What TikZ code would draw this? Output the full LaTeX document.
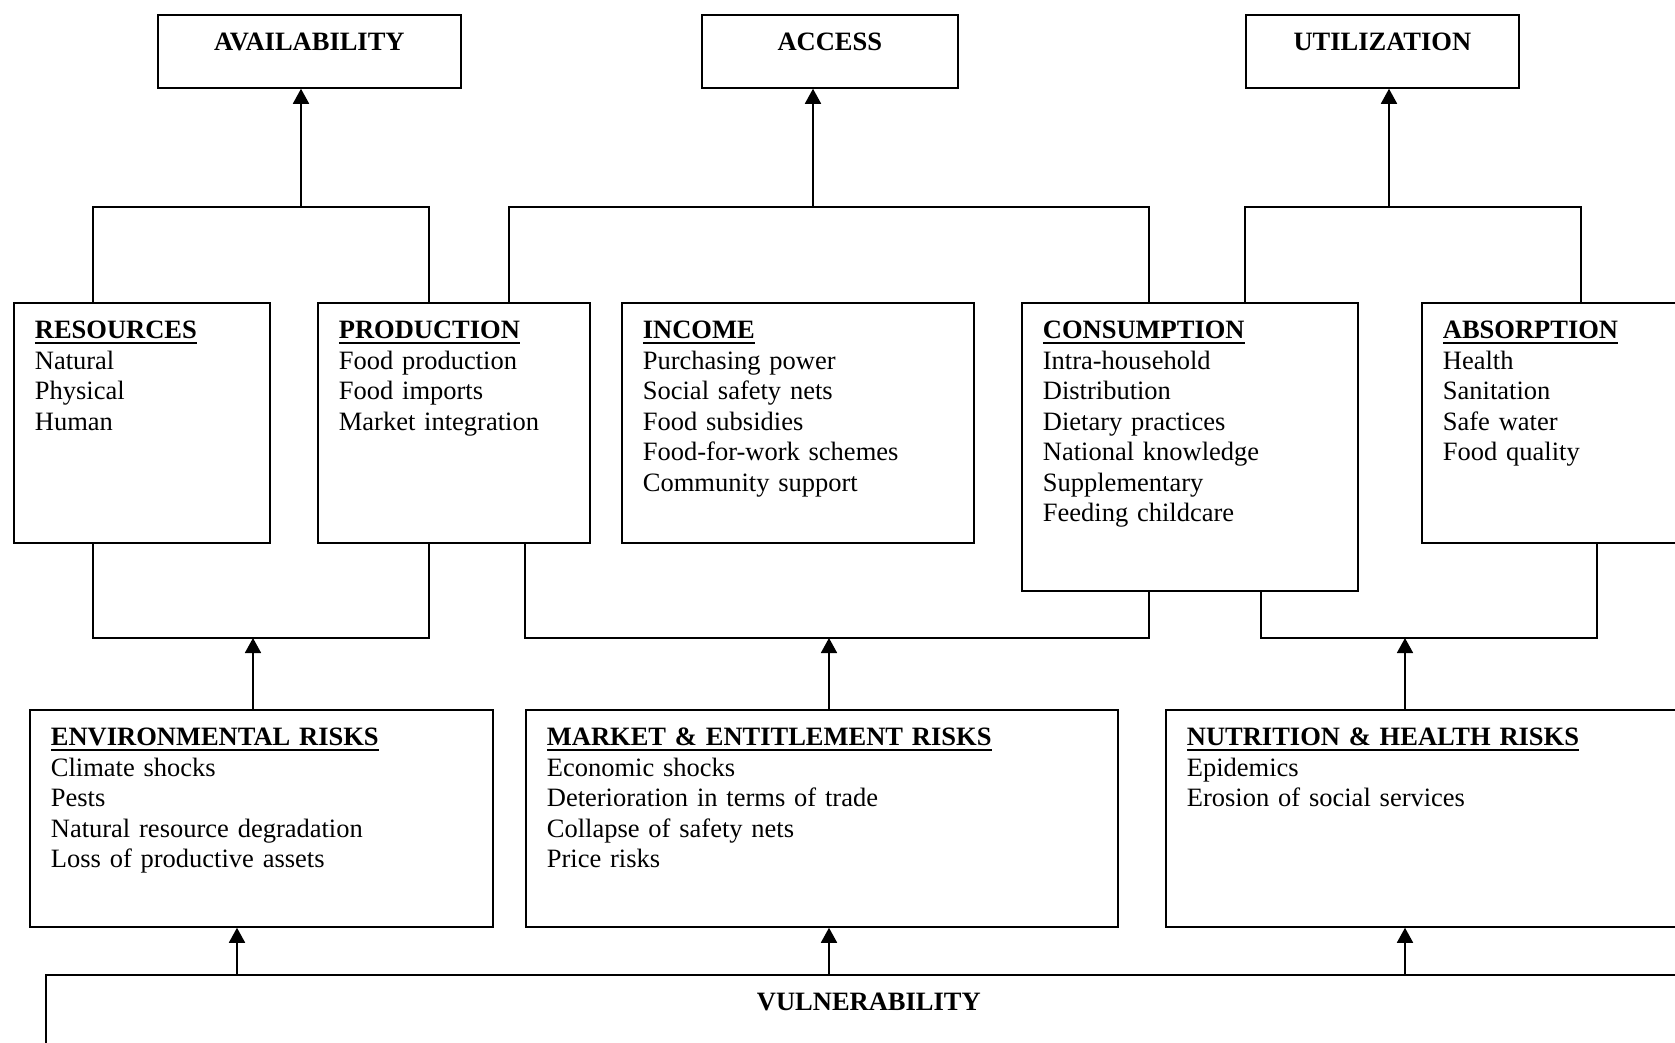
\documentclass[tikz,border=0pt]{standalone}
\usepackage{fontspec}
\setmainfont{Liberation Serif}
\usetikzlibrary{arrows.meta}
\newcommand{\heading}[1]{\setbox0\hbox{\textbf{#1}}\rlap{\textbf{#1}}\rule[-2pt]{\wd0}{0.8pt}}

\begin{document}
\begin{tikzpicture}[x=0.4pt,y=-0.4pt,line width=0.7pt,>={Triangle[length=6pt,width=6.4pt]},
		panel/.style={draw,rectangle,anchor=north west,align=left,inner xsep=8.4pt,inner ysep=0pt,text height=14.4pt,font=\fontsize{10.6pt}{12.2pt}\selectfont},
		pillar/.style={panel,align=center,text depth=14.8pt},
		factor/.style={panel,text depth=81.6pt},
		risk/.style={panel,text depth=72.4pt}]
		\useasboundingbox (0,0) rectangle (1675,1042);
		\clip (0,0) rectangle (1675,1042);
		\node (avail) [pillar,text width=104.4pt] at (157,14) {\textbf{AVAILABILITY}};
		\node (access) [pillar,text width=85.6pt] at (701,14) {\textbf{ACCESS}};
		\node (util) [pillar,text width=92.4pt] at (1245,14) {\textbf{UTILIZATION}};
		\node (res) [factor,text width=85.6pt] at (13,302) {\heading{RESOURCES}\\Natural\\Physical\\Human};
		\node (prod) [factor,text width=92pt] at (317,302) {\heading{PRODUCTION}\\Food production\\Food imports\\Market integration};
		\node (income) [factor,text width=124pt] at (621,302) {\heading{INCOME}\\Purchasing power\\Social safety nets\\Food subsidies\\Food-for-work schemes\\Community support};
		\node (cons) [factor,text width=117.6pt,text depth=100.8pt] at (1021,302) {\heading{CONSUMPTION}\\Intra-household\\Distribution\\Dietary practices\\National knowledge\\Supplementary\\Feeding childcare};
		\node (absorb) [factor,text width=87.2pt] at (1421,302) {\heading{ABSORPTION}\\Health\\Sanitation\\Safe water\\Food quality};
		\node (env) [risk,text width=168.4pt] at (29,709) {\heading{ENVIRONMENTAL RISKS}\\Climate shocks\\Pests\\Natural resource degradation\\Loss of productive assets};
		\node (market) [risk,text width=220pt] at (525,709) {\heading{MARKET \& ENTITLEMENT RISKS}\\Economic shocks\\Deterioration in terms of trade\\Collapse of safety nets\\Price risks};
		\node (nut) [risk,text width=207.2pt] at (1165,709) {\heading{NUTRITION \& HEALTH RISKS}\\Epidemics\\Erosion of social services};
		\node (vuln) [panel,align=center,text width=641.6pt,text depth=40pt] at (45,974) {\textbf{VULNERABILITY}};
		\coordinate (avbus) at (301,207);
		\coordinate (acbus) at (813,207);
		\coordinate (utbus) at (1389,207);
		\coordinate (envbus) at (253,638);
		\coordinate (mktbus) at (829,638);
		\coordinate (nutbus) at (1405,638);
		\draw (res.north -| 93,0) |- (avbus) -| (prod.north -| 429,0);
		\draw[->] (avbus) -- (avail.south -| avbus);
		\draw (prod.north -| 509,0) |- (acbus) -| (cons.north -| 1149,0);
		\draw[->] (acbus) -- (access.south -| acbus);
		\draw (cons.north -| 1245,0) |- (utbus) -| (absorb.north -| 1581,0);
		\draw[->] (utbus) -- (util.south -| utbus);
		\draw (res.south -| 93,0) |- (envbus) -| (prod.south -| 429,0);
		\draw[->] (env.north -| envbus) -- (envbus);
		\draw (prod.south -| 525,0) |- (mktbus) -| (cons.south -| 1149,0);
		\draw[->] (market.north -| mktbus) -- (mktbus);
		\draw (cons.south -| 1261,0) |- (nutbus) -| (absorb.south -| 1597,0);
		\draw[->] (nut.north -| nutbus) -- (nutbus);
		\draw[->] (vuln.north -| 237,0) -- (env.south -| 237,0);
		\draw[->] (vuln.north -| mktbus) -- (market.south -| mktbus);
		\draw[->] (vuln.north -| nutbus) -- (nut.south -| nutbus);
\end{tikzpicture}
\end{document}
